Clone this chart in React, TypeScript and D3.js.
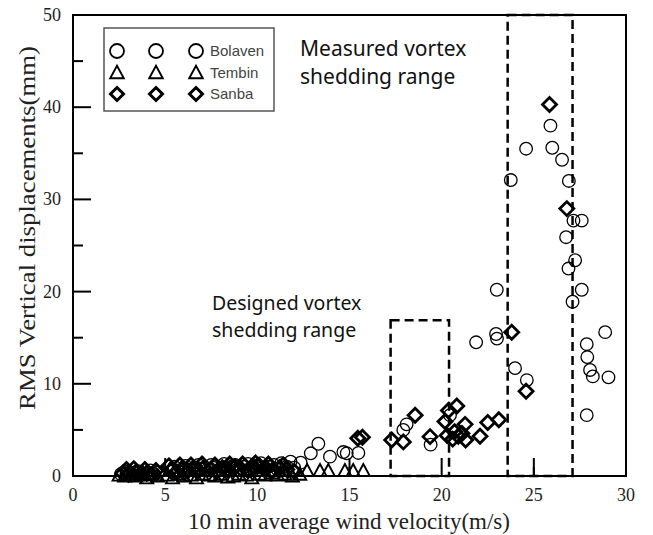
import * as d3 from "d3";

// Bolaven typhoon: [wind velocity m/s, RMS vertical displacement mm]
const bolaven: [number, number][] = [
  [2.6, 0.2], [2.9, 0.3], [3.2, 0.1], [3.5, 0.3], [3.8, 0.2], [4.1, 0.3], [4.4, 0.2],
  [3.0, 0.5], [3.6, 0.5], [4.2, 0.6], [4.6, 0.4],
  [5.4, 0.5], [5.7, 0.6], [6.0, 0.4], [6.3, 0.7], [6.6, 0.6], [6.9, 0.8], [7.3, 0.7],
  [7.6, 0.9], [7.9, 0.6], [8.3, 0.8], [8.6, 0.9], [8.9, 0.7], [9.3, 1.0], [9.6, 0.8],
  [9.9, 1.1], [10.3, 0.9], [10.6, 1.0], [10.9, 1.2], [11.3, 1.4], [11.6, 1.0],
  [5.5, 1.0], [6.1, 1.1], [6.8, 1.2], [7.5, 1.2], [8.2, 1.3], [8.8, 1.2], [9.5, 1.3],
  [10.2, 1.4], [10.8, 0.5], [11.1, 0.7],
  [11.8, 1.55], [12.0, 0.9], [12.35, 1.45], [12.9, 2.46], [13.31, 3.5], [13.94, 2.1],
  [14.67, 2.6], [14.85, 2.46], [15.48, 2.5],
  [17.92, 5.0], [18.1, 5.6], [19.4, 3.4], [20.45, 6.6],
  [21.87, 14.5], [22.95, 15.4], [23.0, 14.9], [22.99, 20.2], [23.75, 32.1], [24.58, 35.5],
  [23.98, 11.7], [24.62, 10.4], [25.9, 38.0], [26.0, 35.6], [26.53, 34.3], [26.9, 32.0],
  [27.15, 27.7], [27.6, 27.7], [26.75, 25.9], [27.24, 23.4], [26.88, 22.5], [27.6, 20.2],
  [27.1, 18.9], [27.87, 14.3], [27.9, 12.9], [28.05, 11.5], [28.2, 10.8], [28.87, 15.6],
  [29.05, 10.7], [27.87, 6.6],
];

const tembin: [number, number][] = [
  [2.5, 0.1], [2.8, 0.0], [3.1, 0.2], [3.4, 0.0], [3.7, 0.1], [4.0, -0.2], [4.3, 0.2],
  [4.6, 0.0], [5.1, 0.1], [5.4, -0.2], [5.7, 0.2], [6.0, 0.0], [6.4, 0.1], [6.7, -0.2],
  [7.0, 0.2], [7.4, 0.1], [7.7, 0.0], [8.0, 0.2], [8.4, -0.1], [8.7, 0.0], [9.0, 0.2],
  [9.4, 0.1], [9.7, -0.2], [10.1, 0.2], [10.4, 0.1], [10.8, 0.3], [11.1, 0.1], [11.5, 0.2],
  [11.9, 0.0], [12.3, 0.2], [12.7, 0.6], [13.4, 0.6], [13.85, 0.6], [14.75, 0.6],
  [15.2, 0.6], [15.75, 0.6],
];

const sanba: [number, number][] = [
  [2.7, 0.3], [3.0, 0.2], [3.4, 0.4], [3.7, 0.2], [4.0, 0.3], [4.3, 0.1],
  [2.9, 0.7], [3.3, 0.8], [3.9, 0.7], [4.5, 0.6],
  [5.3, 0.6], [5.6, 0.4], [5.9, 0.7], [6.2, 0.5], [6.5, 0.8], [6.8, 0.6], [7.1, 0.9],
  [7.5, 0.7], [7.8, 0.5], [8.1, 0.9], [8.4, 0.7], [8.8, 1.0], [9.1, 0.8], [9.5, 0.6],
  [9.8, 0.9], [10.1, 1.1], [10.5, 0.8], [10.8, 0.6], [11.2, 0.9], [11.6, 0.7], [12.0, 0.5],
  [5.2, 1.1], [5.8, 1.2], [6.4, 1.2], [7.0, 1.3], [7.7, 1.2], [8.5, 1.3], [9.2, 1.3],
  [9.9, 1.4], [10.6, 1.3], [11.4, 1.2],
  [15.45, 4.1], [15.7, 4.2], [17.29, 3.9], [17.92, 3.7], [18.56, 6.6], [19.37, 4.27],
  [20.82, 7.6], [20.37, 7.1], [20.18, 5.9], [21.27, 5.6], [20.3, 4.4], [20.6, 4.0],
  [20.9, 4.3], [21.1, 4.6], [20.7, 4.8], [21.3, 3.9], [22.08, 4.3], [22.5, 5.8],
  [23.1, 6.1], [23.8, 15.6], [24.58, 9.2], [25.85, 40.3], [26.79, 29.0],
];

const xTicks = [0, 5, 10, 15, 20, 25, 30];
const yTicks = [0, 10, 20, 30, 40, 50];
const xMinor = [5, 15, 25];
const yMinor = [5, 15, 25, 35, 45];

// vortex shedding ranges: [x0, x1, yTop]
const designedRange = [17.23, 20.4, 16.9];
const measuredRange = [23.58, 27.1, 50];

const legendNames = ["Bolaven", "Tembin", "Sanba"];

const W = 653;
const H = 535;
const SERIF = "'Liberation Serif', 'Times New Roman', serif";
const SANS = "'Noto Sans', 'Open Sans', sans-serif";

const diamond = (s: number) => `M0,${-s}L${s},0L0,${s}L${-s},0Z`;
const triangle = (s: number) => `M0,${-s}L${s},${s * 0.85}L${-s},${s * 0.85}Z`;

function Marker({ kind, x, y, big }: { kind: number; x: number; y: number; big?: boolean }) {
  if (kind === 0)
    return <circle cx={x} cy={y} r={big ? 7 : 6.3} fill="none" stroke="#000" strokeWidth={big ? 1.8 : 1.3} />;
  if (kind === 1)
    return <path d={triangle(big ? 6.8 : 6.5)} transform={`translate(${x},${y})`} fill="none" stroke="#000" strokeWidth={1.9} />;
  return <path d={diamond(big ? 6.5 : 7)} transform={`translate(${x},${y})`} fill="none" stroke="#000" strokeWidth={big ? 3 : 2.8} />;
}

export default function App() {
  const x = d3.scaleLinear().domain([0, 30]).range([73, 626]);
  const y = d3.scaleLinear().domain([0, 50]).range([476, 15]);

  const rangeBox = (r: number[], key: string) => (
    <rect
      key={key}
      x={x(r[0])}
      y={y(r[2])}
      width={x(r[1]) - x(r[0])}
      height={y(0) - y(r[2])}
      fill="none"
      stroke="#000"
      strokeWidth={2.5}
      strokeDasharray="9 5"
    />
  );

  return (
    <svg width={W} height={H} style={{ position: "absolute", left: 0, top: 0, background: "#fff" }}>
      {/* shedding ranges */}
      {rangeBox(designedRange, "designed")}
      {rangeBox(measuredRange, "measured")}

      {/* points */}
      {tembin.map((d, i) => <Marker key={"t" + i} kind={1} x={x(d[0])} y={y(d[1])} />)}
      {bolaven.map((d, i) => <Marker key={"b" + i} kind={0} x={x(d[0])} y={y(d[1])} />)}
      {sanba.map((d, i) => <Marker key={"s" + i} kind={2} x={x(d[0])} y={y(d[1])} />)}

      {/* frame */}
      <rect x={x(0)} y={y(50)} width={x(30) - x(0)} height={y(0) - y(50)} fill="none" stroke="#000" strokeWidth={2} />

      {/* ticks */}
      {xTicks.map((t) => (
        <g key={"xt" + t}>
          <line x1={x(t)} x2={x(t)} y1={y(0)} y2={y(0) - 18} stroke="#000" strokeWidth={2} />
          <text x={x(t)} y={501} textAnchor="middle" fontFamily={SERIF} fontSize={18} fill="#222">{t}</text>
        </g>
      ))}
      {xMinor.map((t) => (
        <line key={"xm" + t} x1={x(t)} x2={x(t)} y1={y(0)} y2={y(0) - 9} stroke="#000" strokeWidth={2} />
      ))}
      {yTicks.map((t) => (
        <g key={"yt" + t}>
          <line x1={x(0)} x2={x(0) + 18} y1={y(t)} y2={y(t)} stroke="#000" strokeWidth={2} />
          <text x={61} y={y(t) + 6} textAnchor="end" fontFamily={SERIF} fontSize={18} fill="#222">{t}</text>
        </g>
      ))}
      {yMinor.map((t) => (
        <line key={"ym" + t} x1={x(0)} x2={x(0) + 10} y1={y(t)} y2={y(t)} stroke="#000" strokeWidth={2} />
      ))}

      {/* axis titles */}
      <text x={349} y={529} textAnchor="middle" fontFamily={SERIF} fontSize={23} fill="#222">
        10 min average wind velocity(m/s)
      </text>
      <text
        transform="translate(35,228) rotate(-90)"
        textAnchor="middle"
        fontFamily={SERIF}
        fontSize={23}
        fill="#222"
        textLength={364}
        lengthAdjust="spacingAndGlyphs"
      >
        RMS Vertical displacements(mm)
      </text>

      {/* annotations */}
      <g fontFamily={SANS} fill="#111">
        <text x={300} y={56} fontSize={21}>Measured vortex</text>
        <text x={300} y={84} fontSize={21}>shedding range</text>
        <text x={212} y={310} fontSize={19.5}>Designed vortex</text>
        <text x={212} y={337} fontSize={19.5}>shedding range</text>
      </g>

      {/* legend */}
      <rect x={104} y={28} width={170} height={83} fill="#fff" stroke="#555" strokeWidth={1.5} />
      {legendNames.map((name, i) => {
        const ly = 51 + i * 21.5;
        return (
          <g key={name}>
            {[117, 156, 196].map((lx) => (
              <Marker key={lx} kind={i} x={lx} y={ly} big />
            ))}
            <text x={210} y={ly + 5} fontFamily="'Liberation Sans', Arial, sans-serif" fontSize={15} fill="#444">
              {name}
            </text>
          </g>
        );
      })}
    </svg>
  );
}
